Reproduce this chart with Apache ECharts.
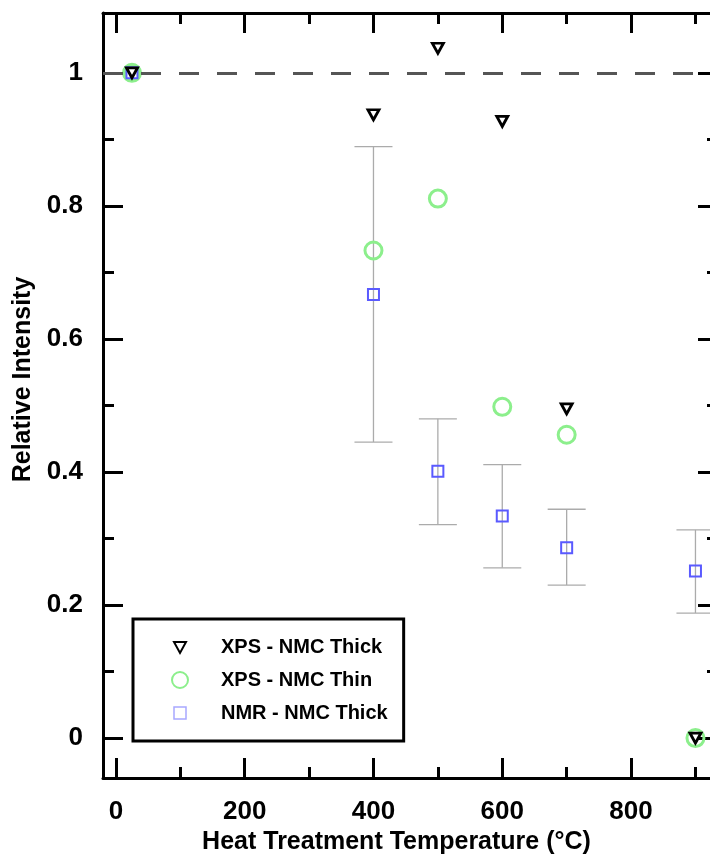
<!DOCTYPE html>
<html>
<head>
<meta charset="utf-8">
<style>
  html, body { margin: 0; padding: 0; background: #ffffff; overflow: hidden; width: 710px; height: 860px; }
  /* drawing surface is a little wider than the page so the right frame falls just past the edge */
  #chart { width: 730px; height: 860px; }
</style>
<script src="https://cdn.jsdelivr.net/npm/echarts@6/dist/echarts.min.js"></script>
</head>
<body>
<div id="chart"></div>
<script>
// Heat treatment temperatures (°C)
const temperatures = [25, 400, 500, 600, 700, 900];

// Relative intensities, normalised to the untreated sample at 25 °C
const xpsThick = [1.0, 0.937, 1.037, 0.927, 0.495, 0.0];
const xpsThin  = [1.0, 0.733, 0.811, 0.498, 0.456, 0.0];
const nmrThick = [1.0, 0.667, 0.401, 0.334, 0.286, 0.251];

// NMR uncertainty range (lower / upper bound) for the heat-treated samples
const errTemps = [400, 500, 600, 700, 900];
const errLow   = [0.445, 0.321, 0.256, 0.230, 0.188];
const errHigh  = [0.889, 0.480, 0.411, 0.344, 0.313];

// Tick values
const xMajorTicks = [0, 200, 400, 600, 800];
const xMinorTicks = [100, 300, 500, 700, 900];
const yMajorTicks = [0, 0.2, 0.4, 0.6, 0.8, 1];
const yMinorTicks = [0.1, 0.3, 0.5, 0.7, 0.9];

const seriesNames = ['XPS - NMC Thick', 'XPS - NMC Thin', 'NMR - NMC Thick'];
const referenceLevel = 1;
const referenceTemp = 25;

const FONT = '"Liberation Sans", Arial, Helvetica, sans-serif';
const GREEN = '#8cef8c';
const BLUE = '#5a5aff';

const X_MIN = -20, X_MAX = 935;
const Y_MIN = -0.06, Y_MAX = 1.09;

function toPoints(xs, ys, filledColor) {
  return xs.map((x, i) => {
    const p = { value: [x, ys[i]] };
    // the untreated reference sample is drawn as a filled marker
    if (x === referenceTemp && filledColor) p.itemStyle = { color: filledColor };
    return p;
  });
}

function xAxisDef(opts) {
  return Object.assign({
    type: 'value', min: X_MIN, max: X_MAX, gridIndex: 0,
    splitLine: { show: false },
    axisLine: { show: false, onZero: false },
    axisLabel: { show: false },
    axisTick: { show: false }
  }, opts);
}
function yAxisDef(opts) {
  return Object.assign({
    type: 'value', min: Y_MIN, max: Y_MAX, gridIndex: 0,
    splitLine: { show: false },
    axisLine: { show: false, onZero: false },
    axisLabel: { show: false },
    axisTick: { show: false }
  }, opts);
}
const tickStyle = { color: '#000', width: 3 };
const frameLine = { show: true, onZero: false, lineStyle: { color: '#000', width: 3 } };

const chart = echarts.init(document.getElementById('chart'), null, { renderer: 'canvas' });

const option = {
  backgroundColor: '#ffffff',
  animation: false,
  textStyle: { fontFamily: FONT },
  grid: { left: 103, top: 13, right: 12, bottom: 80, containLabel: false },
  xAxis: [
    xAxisDef({
      position: 'bottom',
      name: 'Heat Treatment Temperature (°C)',
      nameLocation: 'middle',
      nameGap: 52,
      nameTextStyle: { fontFamily: FONT, fontWeight: 'bold', fontSize: 25, color: '#000', padding: [0, 28, 0, 0] },
      axisLine: frameLine,
      axisTick: { show: true, inside: true, length: 20, lineStyle: tickStyle, customValues: xMajorTicks },
      axisLabel: { show: true, margin: 21, fontFamily: FONT, fontWeight: 'bold', fontSize: 26, color: '#000', customValues: xMajorTicks }
    }),
    xAxisDef({
      position: 'bottom',
      axisTick: { show: true, inside: true, length: 11, lineStyle: tickStyle, customValues: xMinorTicks }
    }),
    xAxisDef({
      position: 'top',
      axisLine: frameLine,
      axisTick: { show: true, inside: true, length: 20, lineStyle: tickStyle, customValues: xMajorTicks }
    }),
    xAxisDef({
      position: 'top',
      axisTick: { show: true, inside: true, length: 11, lineStyle: tickStyle, customValues: xMinorTicks }
    })
  ],
  yAxis: [
    yAxisDef({
      position: 'left',
      name: 'Relative Intensity',
      nameLocation: 'middle',
      nameGap: 66,
      nameTextStyle: { fontFamily: FONT, fontWeight: 'bold', fontSize: 25, color: '#000', padding: [0, 0, 0, 32] },
      axisLine: frameLine,
      axisTick: { show: true, inside: true, length: 20, lineStyle: tickStyle, customValues: yMajorTicks },
      axisLabel: { show: true, margin: 20, fontFamily: FONT, fontWeight: 'bold', fontSize: 26, color: '#000', customValues: yMajorTicks }
    }),
    yAxisDef({
      position: 'left',
      axisTick: { show: true, inside: true, length: 11, lineStyle: tickStyle, customValues: yMinorTicks }
    }),
    yAxisDef({
      position: 'right',
      axisLine: frameLine,
      axisTick: { show: true, inside: true, length: 20, lineStyle: tickStyle, customValues: yMajorTicks }
    }),
    yAxisDef({
      position: 'right',
      axisTick: { show: true, inside: true, length: 11, lineStyle: tickStyle, customValues: yMinorTicks }
    })
  ],
  legend: {
    orient: 'vertical',
    left: 133,
    top: 619,
    padding: [18, 16, 18, 37],
    itemGap: 13,
    itemWidth: 18,
    itemHeight: 18,
    borderColor: '#000',
    borderWidth: 3,
    backgroundColor: '#ffffff',
    selectedMode: false,
    textStyle: { fontFamily: FONT, fontWeight: 'bold', fontSize: 20, color: '#000', lineHeight: 20, padding: [0, 0, 0, 27] },
    data: [
      { name: seriesNames[0], icon: 'path://M0,0M18,18M3,4L15,4L9,15Z',
        itemStyle: { color: 'transparent', borderColor: '#000', borderWidth: 2 } },
      { name: seriesNames[1], icon: 'path://M0,0M18,18M1,9A8,8,0,1,1,17,9A8,8,0,1,1,1,9Z',
        itemStyle: { color: 'transparent', borderColor: GREEN, borderWidth: 2 } },
      { name: seriesNames[2], icon: 'path://M0,0M18,18M3,3L15,3L15,15L3,15Z',
        itemStyle: { color: 'transparent', borderColor: '#a8a8ff', borderWidth: 1.5 } }
    ]
  },
  series: [
    {
      name: 'NMR range',
      type: 'custom',
      xAxisIndex: 0, yAxisIndex: 0,
      z: 1,
      silent: true,
      data: errTemps.map((t, i) => [t, errLow[i], errHigh[i]]),
      renderItem: function (params, api) {
        const lo = api.coord([api.value(0), api.value(1)]);
        const hi = api.coord([api.value(0), api.value(2)]);
        const hw = 19;
        const st = { stroke: '#ababab', lineWidth: 1.3 };
        return {
          type: 'group',
          children: [
            { type: 'line', shape: { x1: lo[0], y1: lo[1], x2: hi[0], y2: hi[1] }, style: st },
            { type: 'line', shape: { x1: hi[0] - hw, y1: hi[1], x2: hi[0] + hw, y2: hi[1] }, style: st },
            { type: 'line', shape: { x1: lo[0] - hw, y1: lo[1], x2: lo[0] + hw, y2: lo[1] }, style: st }
          ]
        };
      }
    },
    {
      name: 'Reference',
      type: 'line',
      xAxisIndex: 0, yAxisIndex: 0,
      data: [],
      z: 2,
      markLine: {
        silent: true,
        symbol: 'none',
        label: { show: false },
        lineStyle: { color: '#555555', width: 3, type: [20, 18] },
        data: [{ yAxis: referenceLevel }]
      }
    },
    {
      name: seriesNames[1],
      type: 'scatter',
      xAxisIndex: 0, yAxisIndex: 0,
      z: 3,
      symbol: 'circle',
      symbolSize: 17,
      itemStyle: { color: 'transparent', borderColor: GREEN, borderWidth: 3, opacity: 1 },
      data: toPoints(temperatures, xpsThin, GREEN)
    },
    {
      name: seriesNames[2],
      type: 'scatter',
      xAxisIndex: 0, yAxisIndex: 0,
      z: 4,
      symbol: 'rect',
      symbolSize: 11,
      itemStyle: { color: 'transparent', borderColor: BLUE, borderWidth: 2, opacity: 1 },
      data: toPoints(temperatures, nmrThick, '#ffffff')
    },
    {
      name: seriesNames[0],
      type: 'scatter',
      xAxisIndex: 0, yAxisIndex: 0,
      z: 5,
      symbol: 'triangle',
      symbolRotate: 180,
      symbolSize: [11, 10],
      itemStyle: { color: 'transparent', borderColor: '#000', borderWidth: 2.8, opacity: 1 },
      data: toPoints(temperatures, xpsThick, null)
    }
  ]
};

chart.setOption(option);
</script>
</body>
</html>
